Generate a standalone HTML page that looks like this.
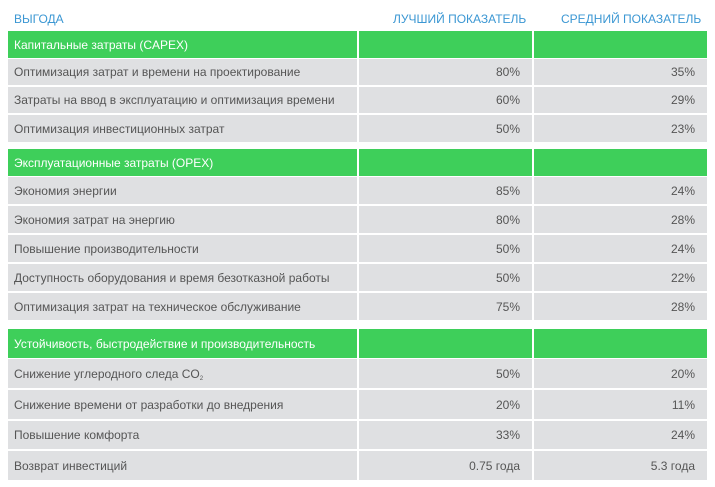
<!DOCTYPE html>
<html><head><meta charset="utf-8"><style>
body{margin:0;width:715px;height:487px;background:#fff;font-family:"Liberation Sans",sans-serif;position:relative;overflow:hidden}
.h{position:absolute;top:12px;font-size:12px;color:#3b97d3}
.r{position:absolute;left:8px;width:699px;display:flex}
.r div{box-sizing:border-box;font-size:12px;color:#555;display:flex;align-items:center;padding:0 6px;margin-right:2px}
.r div:last-child{margin-right:0}
.c1{width:349px}.c2{width:173px;justify-content:flex-end;padding-right:12px!important}.c3{width:173px;justify-content:flex-end;padding-right:12px!important}
.g div{background:#3ecf5a;color:#fff}
.w div{background:#dfe0e2}
.s{font-size:6px;position:relative;top:5px}
</style></head><body>
<div class="h" style="left:14px">ВЫГОДА</div>
<div class="h" style="left:393px">ЛУЧШИЙ ПОКАЗАТЕЛЬ</div>
<div class="h" style="left:561px">СРЕДНИЙ ПОКАЗАТЕЛЬ</div>

<div class="r g" style="top:31px;height:27px"><div class="c1">Капитальные затраты (CAPEX)</div><div class="c2"></div><div class="c3"></div></div>
<div class="r w" style="top:59px;height:26px"><div class="c1">Оптимизация затрат и времени на проектирование</div><div class="c2">80%</div><div class="c3">35%</div></div>
<div class="r w" style="top:87px;height:26px"><div class="c1">Затраты на ввод в эксплуатацию и оптимизация времени</div><div class="c2">60%</div><div class="c3">29%</div></div>
<div class="r w" style="top:115px;height:27px"><div class="c1">Оптимизация инвестиционных затрат</div><div class="c2">50%</div><div class="c3">23%</div></div>

<div class="r g" style="top:149px;height:27px"><div class="c1">Эксплуатационные затраты (OPEX)</div><div class="c2"></div><div class="c3"></div></div>
<div class="r w" style="top:177px;height:27px"><div class="c1">Экономия энергии</div><div class="c2">85%</div><div class="c3">24%</div></div>
<div class="r w" style="top:206px;height:27px"><div class="c1">Экономия затрат на энергию</div><div class="c2">80%</div><div class="c3">28%</div></div>
<div class="r w" style="top:235px;height:27px"><div class="c1">Повышение производительности</div><div class="c2">50%</div><div class="c3">24%</div></div>
<div class="r w" style="top:264px;height:27px"><div class="c1">Доступность оборудования и время безотказной работы</div><div class="c2">50%</div><div class="c3">22%</div></div>
<div class="r w" style="top:293px;height:27px"><div class="c1">Оптимизация затрат на техническое обслуживание</div><div class="c2">75%</div><div class="c3">28%</div></div>

<div class="r g" style="top:329px;height:29px"><div class="c1">Устойчивость, быстродействие и производительность</div><div class="c2"></div><div class="c3"></div></div>
<div class="r w" style="top:359px;height:29px"><div class="c1">Снижение углеродного следа CO<span class="s">2</span></div><div class="c2">50%</div><div class="c3">20%</div></div>
<div class="r w" style="top:390px;height:29px"><div class="c1">Снижение времени от разработки до внедрения</div><div class="c2">20%</div><div class="c3">11%</div></div>
<div class="r w" style="top:421px;height:28px"><div class="c1">Повышение комфорта</div><div class="c2">33%</div><div class="c3">24%</div></div>
<div class="r w" style="top:451px;height:29px"><div class="c1">Возврат инвестиций</div><div class="c2">0.75 года</div><div class="c3">5.3 года</div></div>
</body></html>
